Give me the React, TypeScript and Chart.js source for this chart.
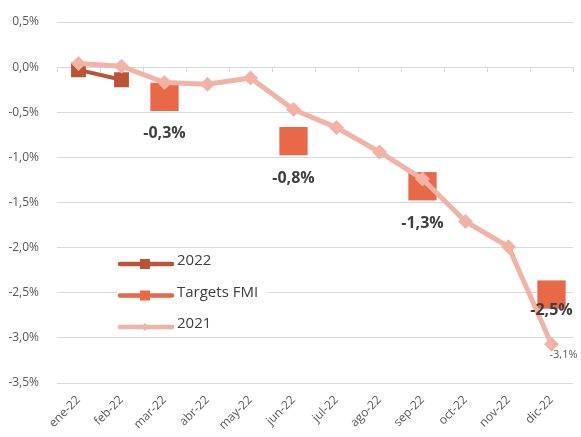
import React, { useEffect, useRef } from 'react';
import { Chart, registerables } from 'chart.js';

Chart.register(...registerables);

const categories = ['ene-22', 'feb-22', 'mar-22', 'abr-22', 'may-22', 'jun-22', 'jul-22', 'ago-22', 'sep-22', 'oct-22', 'nov-22', 'dic-22'];
const series2022 = [-0.03, -0.14, null, null, null, null, null, null, null, null, null, null];
const targetsFMI = [null, null, -0.33, null, null, -0.82, null, null, -1.32, null, null, -2.52];
const series2021 = [0.04, 0.01, -0.17, -0.19, -0.12, -0.47, -0.67, -0.94, -1.24, -1.71, -1.99, -3.07];
const yMin = -3.5;
const yMax = 0.5;
const yStep = 0.5;
const seriesNames = ['2022', 'Targets FMI', '2021'];

const C2022 = '#BE5237';
const CTGT = '#E86848';
const C2021 = '#F2B2A6';
const FONT = "'Open Sans', 'DejaVu Sans', sans-serif";

const fmt = (v: number) => {
  const x = Math.abs(v) < 1e-9 ? 0 : v;
  return x.toFixed(1).replace('.', ',') + '%';
};

const zeroTicksPlugin = {
  id: 'zeroTicks',
  beforeDatasetsDraw(chart: any) {
    const { ctx, chartArea } = chart;
    const xs = chart.scales.x;
    const y0 = chart.scales.y.getPixelForValue(0);
    ctx.save();
    ctx.strokeStyle = '#d9d9d9';
    ctx.lineWidth = 1;
    for (let k = 0; k <= categories.length; k++) {
      let x;
      if (k === 0) x = chartArea.left;
      else if (k === categories.length) x = chartArea.right;
      else x = (xs.getPixelForValue(k - 1) + xs.getPixelForValue(k)) / 2;
      x = Math.round(x) + 0.5;
      ctx.beginPath();
      ctx.moveTo(x, y0);
      ctx.lineTo(x, y0 + 5);
      ctx.stroke();
    }
    ctx.restore();
  },
};

const labelsPlugin = {
  id: 'dataLabels',
  afterDatasetsDraw(chart: any) {
    const { ctx } = chart;
    ctx.save();
    ctx.textAlign = 'center';
    ctx.textBaseline = 'middle';
    const meta = chart.getDatasetMeta(1);
    const last = targetsFMI.length - 1;
    ctx.font = `bold 16px ${FONT}`;
    ctx.fillStyle = '#404040';
    meta.data.forEach((pt: any, i: number) => {
      const v = targetsFMI[i];
      if (v === null || v === undefined) return;
      ctx.fillText(fmt(v), pt.x, pt.y + (i === last ? 16 : 37));
    });
    const m3 = chart.getDatasetMeta(2);
    const li = series2021.length - 1;
    const p = m3.data[li];
    ctx.font = `11px ${FONT}`;
    ctx.fillStyle = '#595959';
    ctx.fillText(fmt(series2021[li]), p.x + 12, p.y + 11);
    ctx.restore();
  },
};

const legendPlugin = {
  id: 'customLegend',
  afterDraw(chart: any) {
    const { ctx, chartArea } = chart;
    const left = chartArea.left + 60;
    const top = chartArea.top + 230;
    ctx.save();
    ctx.fillStyle = '#ffffff';
    ctx.fillRect(left, top, 150, 81);
    const rows = [
      { name: seriesNames[0], color: C2022, style: 'rect', r: 5 },
      { name: seriesNames[1], color: CTGT, style: 'rect', r: 5 },
      { name: seriesNames[2], color: C2021, style: 'diamond', r: 4 },
    ];
    rows.forEach((row, i) => {
      const y = top + 12 + i * 31.5;
      ctx.strokeStyle = row.color;
      ctx.lineWidth = 4.5;
      ctx.lineCap = 'round';
      ctx.beginPath();
      ctx.moveTo(left + 3, y);
      ctx.lineTo(left + 55, y);
      ctx.stroke();
      ctx.fillStyle = row.color;
      const cx = left + 28;
      if (row.style === 'rect') {
        ctx.fillRect(cx - row.r, y - row.r, row.r * 2, row.r * 2);
      } else {
        ctx.beginPath();
        ctx.moveTo(cx, y - row.r);
        ctx.lineTo(cx + row.r, y);
        ctx.lineTo(cx, y + row.r);
        ctx.lineTo(cx - row.r, y);
        ctx.closePath();
        ctx.fill();
      }
      ctx.fillStyle = '#404040';
      ctx.font = `15px ${FONT}`;
      ctx.textAlign = 'left';
      ctx.textBaseline = 'middle';
      ctx.fillText(row.name, left + 60, y - 3);
    });
    ctx.restore();
  },
};

export default function App() {
  const ref = useRef<HTMLCanvasElement | null>(null);
  useEffect(() => {
    document.body.style.margin = '0';
    if (!ref.current) return;
    const chart = new Chart(ref.current, {
      type: 'line',
      data: {
        labels: categories,
        datasets: [
          {
            label: seriesNames[0],
            data: series2022,
            borderColor: C2022,
            backgroundColor: C2022,
            borderWidth: 4,
            pointStyle: 'rect',
            pointRadius: 10.5,
            pointBorderWidth: 0,
            order: 2,
          },
          {
            label: seriesNames[1],
            data: targetsFMI,
            borderColor: CTGT,
            backgroundColor: CTGT,
            showLine: false,
            pointStyle: 'rect',
            pointRadius: 20,
            pointBorderWidth: 0,
            order: 1,
          },
          {
            label: seriesNames[2],
            data: series2021,
            borderColor: C2021,
            backgroundColor: C2021,
            borderWidth: 5,
            pointStyle: 'rectRot',
            pointRadius: 7.5,
            pointBorderWidth: 0,
            order: 0,
          },
        ],
      },
      options: {
        animation: false,
        responsive: true,
        maintainAspectRatio: false,
        layout: { autoPadding: false, padding: { top: 22, right: 8, left: 0, bottom: 0 } },
        plugins: { legend: { display: false }, tooltip: { enabled: false } },
        scales: {
          x: {
            offset: true,
            grid: { display: false },
            border: { display: false },
            ticks: {
              color: '#595959',
              font: { family: FONT, size: 12 },
              maxRotation: 45,
              minRotation: 45,
              autoSkip: false,
              padding: 2,
            },
            afterFit(scale: any) {
              scale.height = 54;
              scale.paddingLeft = 0;
              scale.paddingRight = 0;
            },
          },
          y: {
            min: yMin,
            max: yMax,
            grid: { color: '#d9d9d9', lineWidth: 1, drawTicks: false },
            border: { display: false },
            ticks: {
              stepSize: yStep,
              color: '#595959',
              font: { family: FONT, size: 12 },
              padding: 18,
              callback: (v: any) => fmt(Number(v)),
            },
            afterFit(scale: any) {
              scale.width = 57;
              scale.paddingTop = 0;
              scale.paddingBottom = 0;
            },
          },
        },
      },
      plugins: [zeroTicksPlugin, labelsPlugin, legendPlugin],
    } as any);
    return () => chart.destroy();
  }, []);
  return (
    <div style={{ position: 'relative', width: 581, height: 437 }}>
      <canvas ref={ref} />
    </div>
  );
}
